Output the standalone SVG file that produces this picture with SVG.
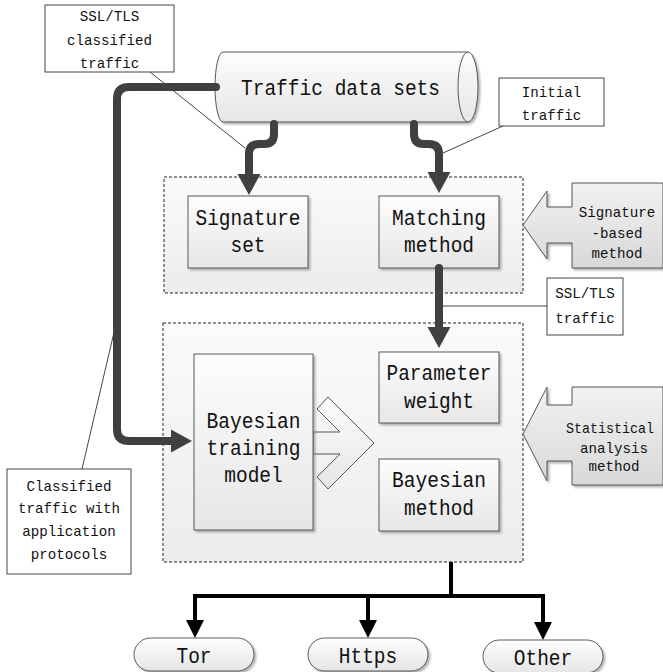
<svg xmlns="http://www.w3.org/2000/svg" width="663" height="672" viewBox="0 0 663 672">
<style>
text{font-family:"Liberation Mono","DejaVu Sans Mono",monospace;fill:#111;text-anchor:middle}
.big{font-size:22px}
.sm{font-size:15px}
.box{fill:url(#gBox);stroke:#5a5a5a;stroke-width:1;filter:url(#sh)}
.call{fill:#fff;stroke:#444;stroke-width:1}
.cont{fill:url(#gCont);stroke:#222;stroke-width:1;stroke-dasharray:3 2}
.blk{fill:url(#gBlk);stroke:#555;stroke-width:1;filter:url(#sh)}
.thick{fill:none;stroke:#404040;stroke-width:8;stroke-linecap:round;stroke-linejoin:round}
.thin{fill:none;stroke:#444;stroke-width:1}
.out{fill:none;stroke:#000;stroke-width:4;stroke-linejoin:miter}
</style>
<defs>
<linearGradient id="gBox" x1="0" y1="0" x2="0" y2="1"><stop offset="0" stop-color="#fdfdfd"/><stop offset="1" stop-color="#e6e6e6"/></linearGradient>
<linearGradient id="gCont" x1="0" y1="0" x2="0" y2="1"><stop offset="0" stop-color="#fbfbfb"/><stop offset="1" stop-color="#ececec"/></linearGradient>
<linearGradient id="gBlk" x1="0" y1="0" x2="0" y2="1"><stop offset="0" stop-color="#f2f2f2"/><stop offset="1" stop-color="#d8d8d8"/></linearGradient>
<filter id="sh" x="-10%" y="-10%" width="130%" height="130%"><feDropShadow dx="2" dy="2" stdDeviation="1.2" flood-color="#777" flood-opacity="0.55"/></filter>
<marker id="ah" markerUnits="userSpaceOnUse" markerWidth="24" markerHeight="26" viewBox="0 -13 24 26" refX="1" refY="0" orient="auto"><path d="M0,-11.5 L21,0 L0,11.5 Z" fill="#404040"/></marker>
<marker id="ab" markerUnits="userSpaceOnUse" markerWidth="20" markerHeight="20" viewBox="0 -10 20 20" refX="1" refY="0" orient="auto"><path d="M0,-9 L18,0 L0,9 Z" fill="#000"/></marker>
</defs>

<g id="container-signature"><rect class="cont" x="164" y="177" width="359" height="116"/></g>
<g id="container-statistical"><rect class="cont" x="163" y="323" width="360" height="239"/></g>

<g id="traffic-data-sets">
<path d="M223,52 H468 A10,35 0 0 1 468,122 H223 A8,35 0 0 1 223,52 Z" fill="url(#gBox)" stroke="#555" filter="url(#sh)"/>
<path d="M468,52 A10,35 0 0 0 468,122" fill="none" stroke="#555"/>
<text class="big" x="340.5" y="95" textLength="199" lengthAdjust="spacingAndGlyphs">Traffic data sets</text>
</g>

<g id="signature-set"><rect class="box" x="188" y="196" width="120" height="72"/>
<text class="big" x="248" y="225" textLength="105" lengthAdjust="spacingAndGlyphs">Signature</text><text class="big" x="248" y="252" textLength="35" lengthAdjust="spacingAndGlyphs">set</text></g>

<g id="matching-method"><rect class="box" x="379" y="196" width="120" height="72"/>
<text class="big" x="439" y="225" textLength="94" lengthAdjust="spacingAndGlyphs">Matching</text><text class="big" x="439" y="252" textLength="70" lengthAdjust="spacingAndGlyphs">method</text></g>

<g id="signature-based-method">
<polygon class="blk" points="523,225 547,191 547,207 572,207 572,183 663,183 663,268 572,268 572,243 547,243 547,259"/>
<text class="sm" x="617" y="217" textLength="76.5" lengthAdjust="spacingAndGlyphs">Signature</text><text class="sm" x="617" y="238" textLength="51" lengthAdjust="spacingAndGlyphs">-based</text><text class="sm" x="617" y="258" textLength="51" lengthAdjust="spacingAndGlyphs">method</text></g>

<g id="hollow-arrow"><polygon points="313,432 340,432 317,409 328,397 374,443 328,489 317,477 340,454 313,454" fill="url(#gBox)" stroke="#555"/></g>

<g id="bayesian-training-model"><rect class="box" x="194" y="354" width="119" height="176"/>
<text class="big" x="253.5" y="428" textLength="94" lengthAdjust="spacingAndGlyphs">Bayesian</text><text class="big" x="253.5" y="455" textLength="94" lengthAdjust="spacingAndGlyphs">training</text><text class="big" x="253.5" y="482" textLength="58.5" lengthAdjust="spacingAndGlyphs">model</text></g>

<g id="parameter-weight"><rect class="box" x="379" y="352" width="120" height="71"/>
<text class="big" x="439" y="380" textLength="105" lengthAdjust="spacingAndGlyphs">Parameter</text><text class="big" x="439" y="408" textLength="70" lengthAdjust="spacingAndGlyphs">weight</text></g>

<g id="bayesian-method"><rect class="box" x="379" y="459" width="120" height="72"/>
<text class="big" x="439" y="487" textLength="94" lengthAdjust="spacingAndGlyphs">Bayesian</text><text class="big" x="439" y="515" textLength="70" lengthAdjust="spacingAndGlyphs">method</text></g>

<g id="statistical-analysis-method">
<polygon class="blk" points="523,434 547,387 547,405 572,405 572,387 663,387 663,485 572,485 572,461 547,461 547,481"/>
<text class="sm" x="610" y="433" textLength="88" lengthAdjust="spacingAndGlyphs">Statistical</text><text class="sm" x="614" y="453" textLength="68" lengthAdjust="spacingAndGlyphs">analysis</text><text class="sm" x="614" y="471" textLength="51" lengthAdjust="spacingAndGlyphs">method</text></g>

<g id="connectors">
<path class="thick" d="M216,87 H129 Q117,87 117,99 V429 Q117,441 129,441 H172" marker-end="url(#ah)"/>
<path class="thick" d="M274,124 V134 Q274,144 264,144 H259 Q249,144 249,154 V175" marker-end="url(#ah)"/>
<path class="thick" d="M414,124 V134 Q414,144 424,144 H429 Q439,144 439,154 V173" marker-end="url(#ah)"/>
<path class="thick" d="M439,268 V328" marker-end="url(#ah)"/>
<path class="thin" d="M150,72 L245,148"/>
<path class="thin" d="M503,126 L443,153"/>
<path class="thin" d="M547,306 H443"/>
<path class="thin" d="M82,469 L115,328"/>
<path class="out" d="M451,562 V596 H195 V621" marker-end="url(#ab)"/>
<path class="out" d="M451,596 H368 V621" marker-end="url(#ab)"/>
<path class="out" d="M451,596 H543 V623" marker-end="url(#ab)"/>
</g>

<g id="ssl-tls-classified-traffic"><rect class="call" x="45" y="5" width="129" height="67"/>
<text class="sm" x="109.5" y="21" textLength="59.5" lengthAdjust="spacingAndGlyphs">SSL/TLS</text><text class="sm" x="109.5" y="45" textLength="85" lengthAdjust="spacingAndGlyphs">classified</text><text class="sm" x="109.5" y="68" textLength="59.5" lengthAdjust="spacingAndGlyphs">traffic</text></g>

<g id="initial-traffic"><rect class="call" x="499" y="78" width="105" height="48"/>
<text class="sm" x="551.5" y="97" textLength="59.5" lengthAdjust="spacingAndGlyphs">Initial</text><text class="sm" x="551.5" y="120" textLength="59.5" lengthAdjust="spacingAndGlyphs">traffic</text></g>

<g id="ssl-tls-traffic"><rect class="call" x="547" y="278" width="76" height="57"/>
<text class="sm" x="585" y="298" textLength="59.5" lengthAdjust="spacingAndGlyphs">SSL/TLS</text><text class="sm" x="585" y="323" textLength="59.5" lengthAdjust="spacingAndGlyphs">traffic</text></g>

<g id="classified-traffic-with-application-protocols"><rect class="call" x="7" y="469" width="124" height="105"/>
<text class="sm" x="69" y="491" textLength="85" lengthAdjust="spacingAndGlyphs">Classified</text><text class="sm" x="69" y="513" textLength="102" lengthAdjust="spacingAndGlyphs">traffic with</text><text class="sm" x="69" y="536" textLength="93.5" lengthAdjust="spacingAndGlyphs">application</text><text class="sm" x="69" y="559" textLength="76.5" lengthAdjust="spacingAndGlyphs">protocols</text></g>

<g id="tor"><rect class="box" x="134" y="638" width="120" height="33" rx="16.5"/><text class="big" x="194" y="663" textLength="35" lengthAdjust="spacingAndGlyphs">Tor</text></g>
<g id="https"><rect class="box" x="308" y="638" width="120" height="33" rx="16.5"/><text class="big" x="368" y="663" textLength="58.5" lengthAdjust="spacingAndGlyphs">Https</text></g>
<g id="other"><rect class="box" x="483" y="640" width="120" height="33" rx="16.5"/><text class="big" x="543" y="665" textLength="58.5" lengthAdjust="spacingAndGlyphs">Other</text></g>
</svg>
